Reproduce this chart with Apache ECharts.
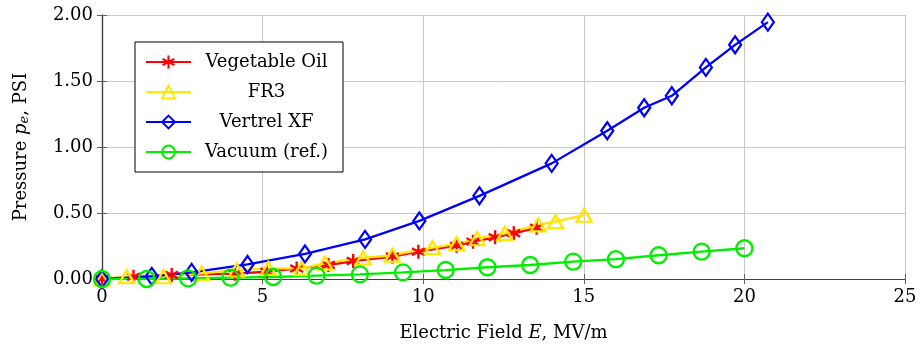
<!DOCTYPE html>
<html>
<head>
<meta charset="utf-8">
<script src="https://cdn.jsdelivr.net/npm/echarts@6/dist/echarts.min.js"></script>
<style>html,body{margin:0;padding:0;background:#fff}#c{width:920px;height:352px}</style>
</head>
<body>
<div id="c"></div>
<script>
// ---- data ----
const seriesNames = ['Vegetable Oil', 'FR3', 'Vertrel XF', 'Vacuum (ref.)'];
const vegX = [0, 0.98, 2.17, 4.14, 5.13, 6.06, 7.05, 7.82, 9.04, 9.85, 11.04, 11.55, 12.24, 12.82, 13.53];
const vegY = [0, 0.017, 0.03, 0.04, 0.055, 0.08, 0.106, 0.136, 0.17, 0.207, 0.252, 0.283, 0.316, 0.346, 0.388];
const fr3X = [0, 0.77, 1.91, 3.10, 4.19, 5.18, 6.22, 6.94, 8.13, 9.04, 10.29, 11.04, 11.68, 12.54, 13.58, 14.12, 15.01];
const fr3Y = [0, 0.017, 0.017, 0.043, 0.068, 0.08, 0.08, 0.12, 0.16, 0.18, 0.238, 0.267, 0.305, 0.346, 0.41, 0.434, 0.483];
const vertX = [0, 1.55, 2.79, 4.53, 6.32, 8.19, 9.88, 11.75, 14.0, 15.73, 16.88, 17.74, 18.80, 19.71, 20.73];
const vertY = [0, 0.02, 0.05, 0.11, 0.19, 0.30, 0.44, 0.63, 0.876, 1.123, 1.297, 1.388, 1.603, 1.774, 1.946];
const vacX = [0, 1.39, 2.68, 4.0, 5.33, 6.68, 8.03, 9.37, 10.7, 12.0, 13.33, 14.67, 16.0, 17.33, 18.67, 20.0];
const vacY = [0, 0.0, 0.005, 0.01, 0.015, 0.025, 0.035, 0.05, 0.068, 0.089, 0.106, 0.131, 0.15, 0.18, 0.207, 0.233];
const xTicks = [0, 5, 10, 15, 20, 25];
const yTicks = [0, 0.5, 1.0, 1.5, 2.0];

const FONT = 'DejaVu Serif';
const FS = 18;
const zip = (xs, ys) => xs.map((x, i) => [x, ys[i]]);
const asterisk = 'path://M42,0L58,0L58,100L42,100Z M2.6,32L10.6,18.1L97.4,68L89.4,81.9Z M89.4,18.1L97.4,32L10.6,81.9L2.6,68Z';

function mk(name, data, color, symbol, size, filled) {
  return {
    name, type: 'line', data, xAxisIndex: 0, yAxisIndex: 0,
    symbol, symbolSize: size, showSymbol: true,
    lineStyle: { color, width: 2.3 },
    itemStyle: filled ? { color, borderWidth: 0 } : { color: 'rgba(255,255,255,0)', borderColor: color, borderWidth: 2.3 },
    emphasis: { disabled: true }, animation: false
  };
}

const chart = echarts.init(document.getElementById('c'), null, { renderer: 'canvas' });
const axisCommon = {
  type: 'value',
  axisLine: { show: true, lineStyle: { color: '#404040', width: 1.2 } },
  axisTick: { show: true, inside: true, length: 5, lineStyle: { color: '#606060' } },
  axisLabel: { color: '#000', fontFamily: FONT, fontSize: FS, margin: 9 },
  splitLine: { show: true, lineStyle: { color: '#c8c8c8', width: 1 } }
};
chart.setOption({
  backgroundColor: '#fff',
  textStyle: { fontFamily: FONT },
  grid: { left: 102, right: 15, top: 15, bottom: 73, containLabel: false },
  legend: {
    orient: 'vertical', left: 135, top: 42,
    padding: [11, 6, 11, 10], itemWidth: 45, itemHeight: 16, itemGap: 12,
    borderColor: '#000', borderWidth: 1, backgroundColor: '#fff',
    data: seriesNames,
    formatter: n => '{c|' + n + '}',
    textStyle: { color: '#000', fontFamily: FONT, fontSize: FS, lineHeight: 16,
      rich: { c: { width: 141, height: 16, lineHeight: 16, align: 'center', fontFamily: FONT, fontSize: FS, color: '#000' } } }
  },
  xAxis: [
    Object.assign({}, axisCommon, {
      min: xTicks[0], max: xTicks[xTicks.length - 1], interval: 5,
      name: 'Electric Field {i|E}, MV/m', nameLocation: 'middle', nameGap: 45,
      nameTextStyle: { color: '#000', fontFamily: FONT, fontSize: FS, rich: { i: { fontStyle: 'italic', fontFamily: FONT, fontSize: FS, color: '#000' } } }
    }),
    { type: 'value', position: 'top', min: 0, max: 25, interval: 5,
      axisLine: { show: true, lineStyle: { color: '#404040', width: 1.2 } },
      axisTick: { show: true, inside: true, length: 5, lineStyle: { color: '#606060' } },
      axisLabel: { show: false }, splitLine: { show: false } }
  ],
  yAxis: [
    Object.assign({}, axisCommon, {
      min: yTicks[0], max: yTicks[yTicks.length - 1], interval: 0.5,
      axisLabel: Object.assign({}, axisCommon.axisLabel, { formatter: v => v.toFixed(2) }),
      name: 'Pressure {i|p}{s|e}, PSI', nameLocation: 'middle', nameGap: 71, nameRotate: 90,
      nameTextStyle: { color: '#000', fontFamily: FONT, fontSize: FS,
        rich: { i: { fontStyle: 'italic', fontFamily: FONT, fontSize: FS, color: '#000' },
                s: { fontStyle: 'italic', fontFamily: FONT, fontSize: 13, color: '#000', verticalAlign: 'bottom', padding: [6, 0, 0, 0] } } }
    }),
    { type: 'value', position: 'right', min: 0, max: 2, interval: 0.5,
      axisLine: { show: true, lineStyle: { color: '#404040', width: 1.2 } },
      axisTick: { show: true, inside: true, length: 5, lineStyle: { color: '#606060' } },
      axisLabel: { show: false }, splitLine: { show: false } }
  ],
  series: [
    mk(seriesNames[0], zip(vegX, vegY), '#ff0000', asterisk, 14, true),
    mk(seriesNames[1], zip(fr3X, fr3Y), '#ffe800', 'triangle', [15, 13], false),
    mk(seriesNames[2], zip(vertX, vertY), '#0000ff', 'diamond', [12, 17], false),
    mk(seriesNames[3], zip(vacX, vacY), '#00ee00', 'circle', 16, false)
  ]
});
</script>
</body>
</html>
